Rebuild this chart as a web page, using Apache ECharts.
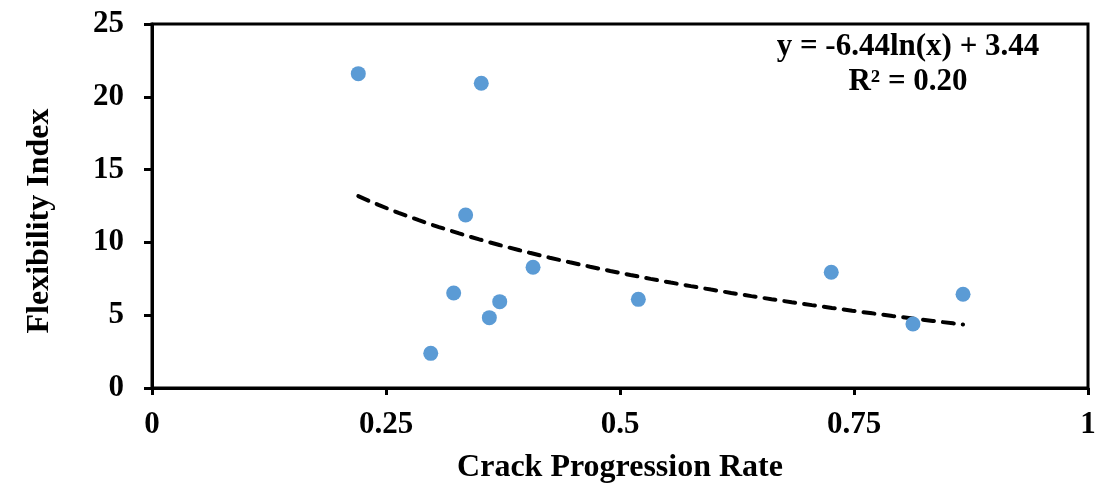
<!DOCTYPE html>
<html>
<head>
<meta charset="utf-8">
<script src="https://cdn.jsdelivr.net/npm/echarts@6/dist/echarts.min.js"></script>
<style>
  html, body { margin: 0; padding: 0; background: #fff; }
  #chart { width: 1099px; height: 491px; }
</style>
</head>
<body>
<div id="chart"></div>
<script>
// Measured samples: crack progression rate vs. flexibility index
const crackRate = [0.2204, 0.3518, 0.3351, 0.4071, 0.3223, 0.3715, 0.3604, 0.2978, 0.5196, 0.7257, 0.8130, 0.8665];
const flexIndex = [21.59, 20.93, 11.88, 8.29, 6.52, 5.93, 4.83, 2.38, 6.09, 7.95, 4.40, 6.44];

// Logarithmic trendline y = a*ln(x) + b, as reported
const trendA = -6.44;
const trendB = 3.44;
const trendR2 = 0.20;

const xTicks = [0, 0.25, 0.5, 0.75, 1];
const yTicks = [0, 5, 10, 15, 20, 25];

const points = crackRate.map((x, i) => [x, flexIndex[i]]);

const xMin = Math.min(...crackRate);
const xMax = Math.max(...crackRate);
const trend = [];
const steps = 60;
for (let i = 0; i <= steps; i++) {
  const x = xMin + (xMax - xMin) * i / steps;
  trend.push([x, trendA * Math.log(x) + trendB]);
}

const font = '"Liberation Serif", "Times New Roman", serif';
const chart = echarts.init(document.getElementById('chart'));

chart.setOption({
  animation: false,
  grid: {
    left: 152, right: 11, top: 24, bottom: 103,
    show: true, borderColor: '#000', borderWidth: 3, backgroundColor: 'transparent'
  },
  xAxis: {
    type: 'value',
    min: xTicks[0], max: xTicks[xTicks.length - 1], interval: 0.25,
    name: 'Crack Progression Rate',
    nameLocation: 'middle', nameGap: 64,
    nameTextStyle: { fontFamily: font, fontWeight: 'bold', fontSize: 32, color: '#000' },
    axisLine: { show: true, lineStyle: { color: '#000', width: 3 } },
    axisTick: { show: true, inside: false, length: 7, lineStyle: { color: '#000', width: 3 } },
    axisLabel: {
      margin: 21, fontFamily: font, fontWeight: 'bold', fontSize: 31, color: '#000',
      formatter: v => String(v)
    },
    splitLine: { show: false }
  },
  yAxis: {
    type: 'value',
    min: yTicks[0], max: yTicks[yTicks.length - 1], interval: 5,
    name: 'Flexibility Index',
    nameLocation: 'middle', nameGap: 96, nameRotate: 90,
    nameTextStyle: {
      fontFamily: font, fontWeight: 'bold', fontSize: 32, color: '#000',
      padding: [0, 30, 0, 0]
    },
    axisLine: { show: true, lineStyle: { color: '#000', width: 3 } },
    axisTick: { show: true, inside: false, length: 8, lineStyle: { color: '#000', width: 3 } },
    axisLabel: { margin: 28, fontFamily: font, fontWeight: 'bold', fontSize: 31, color: '#000' },
    splitLine: { show: false }
  },
  series: [
    {
      type: 'line',
      data: trend,
      showSymbol: false,
      smooth: false,
      lineStyle: { color: '#000', width: 4, type: [11, 9], cap: 'round' },
      z: 2
    },
    {
      type: 'scatter',
      data: points,
      symbol: 'circle',
      symbolSize: 15,
      itemStyle: { color: '#5B9BD5', opacity: 1 },
      z: 3
    }
  ],
  graphic: [
    {
      type: 'text',
      x: 908, y: 29,
      style: {
        text: 'y = ' + trendA.toFixed(2) + 'ln(x) + ' + trendB.toFixed(2) + '\nR² = ' + trendR2.toFixed(2),
        font: 'bold 31px ' + font,
        fill: '#000',
        align: 'center',
        verticalAlign: 'top',
        lineHeight: 35
      }
    }
  ]
});
</script>
</body>
</html>
